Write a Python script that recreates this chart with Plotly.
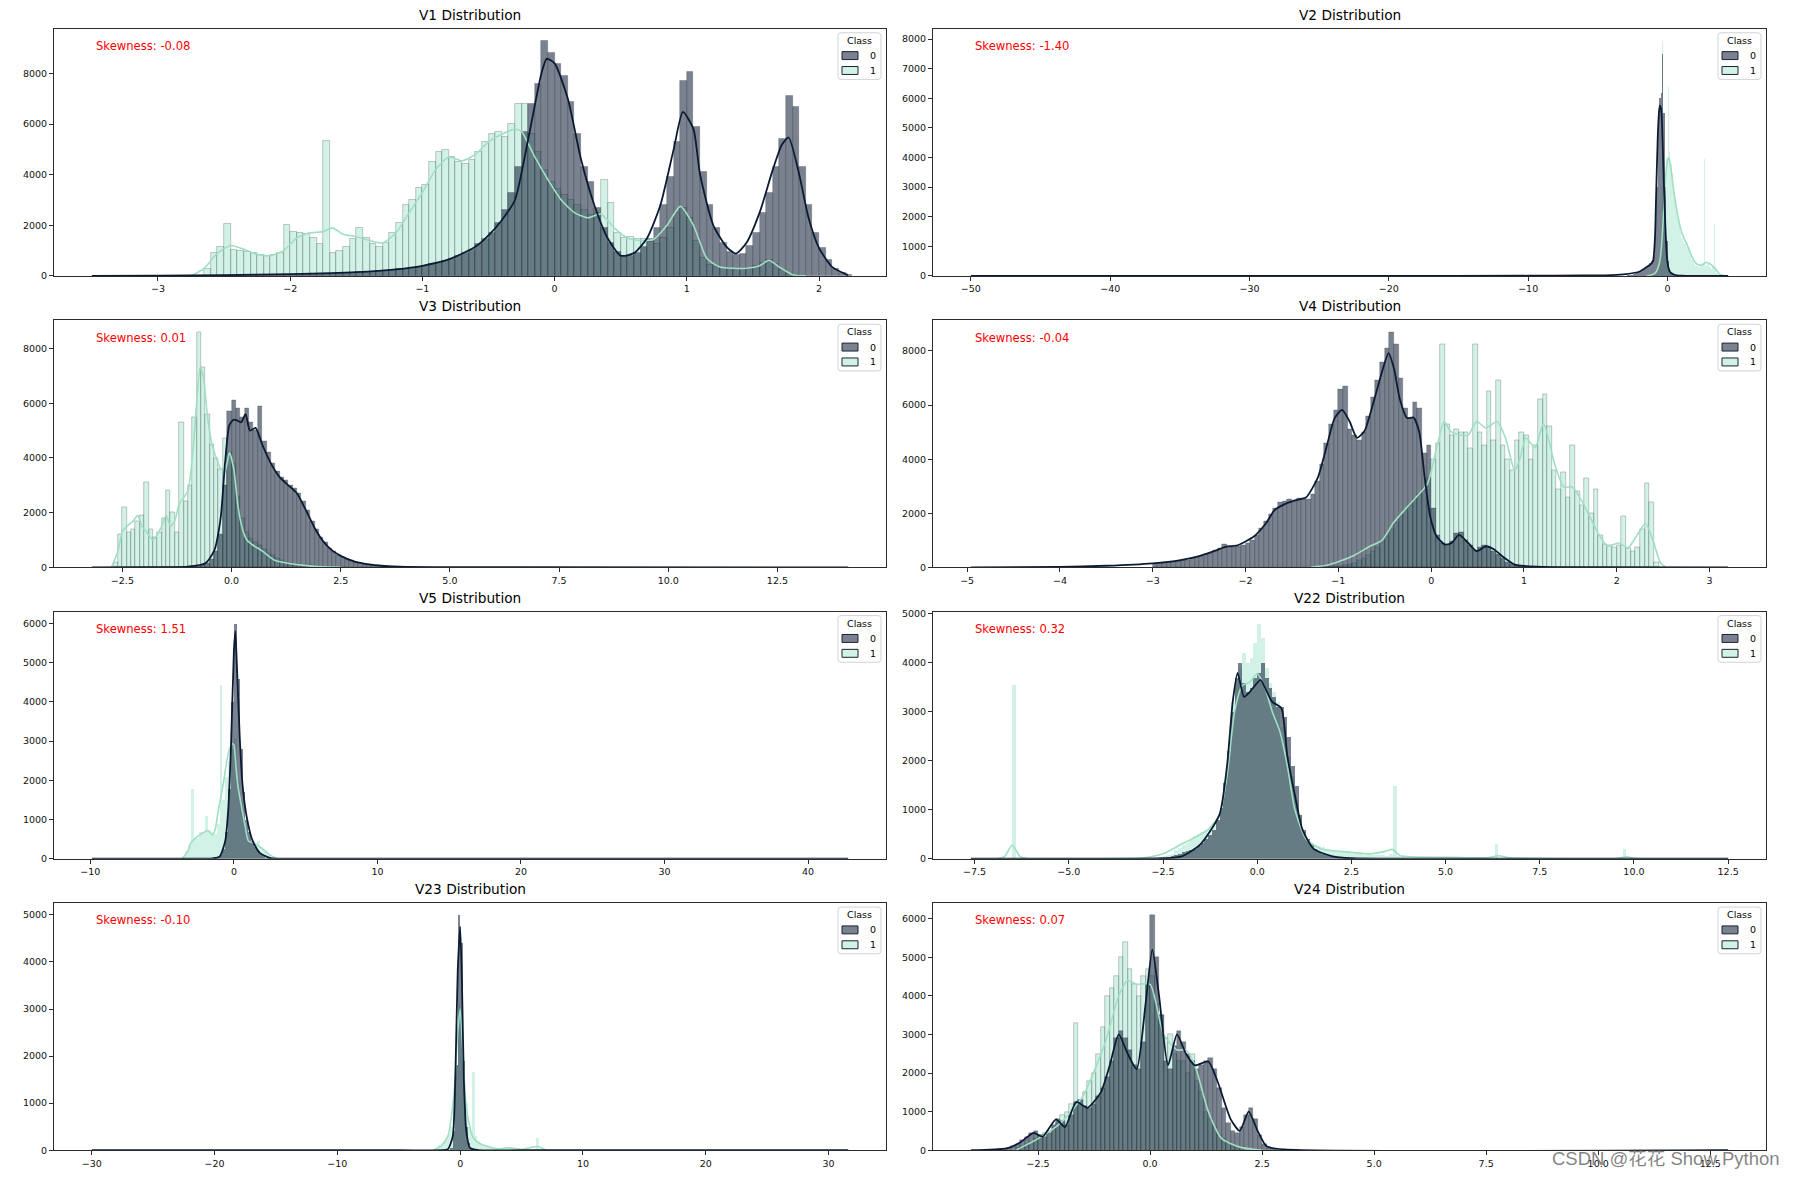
import plotly.graph_objects as go

# ===================== DATA =====================
panel_names = ["V1", "V2", "V3", "V4", "V5", "V22", "V23", "V24"]
skew_values = [-0.08, -1.40, 0.01, -0.04, 1.51, 0.32, -0.10, 0.07]

# ---- V1 ----
v1_bin_width = 0.05
v1_class0_start = -2.70
v1_class0 = [10, 10, 15, 15, 20, 20, 25, 25, 30, 30, 35, 40, 45, 50, 55, 60, 65, 70, 80, 90, 100, 110, 120, 135,
             150, 165, 180, 200, 220, 245, 270, 300, 335, 370,
             410, 460, 520, 590, 680, 780, 900, 1050, 1250, 1480,
             1700, 2100, 2600, 3300, 4300, 5700, 6800, 7600, 9300, 8800,
             8400, 7900, 6900, 5600, 4300, 3700, 2700, 1900, 1300, 950,
             780, 800, 920, 1150, 1450, 1900, 2800, 3900, 5300, 7700,
             8050, 5900, 4100, 2800, 1900, 1300, 950, 820, 880, 1200,
             1700, 2500, 3300, 4300, 5400, 7100, 6700, 4300, 2800, 1700,
             1100, 650, 300, 120, 30]
v1_class1_start = -2.70
v1_class1 = [0, 300, 900, 1150, 2050, 1050, 1000, 950, 900, 820, 800, 850, 900, 2000, 1750, 1700, 1650, 1500, 1250, 5350, 900, 1000, 1150, 1450,
             1900, 1500, 1250, 1150, 1300, 1700, 2100, 2800, 3000, 3500,
             3600, 4500, 4900, 5000, 4700, 4500, 4450, 4600, 4900, 5300,
             5600, 5700, 5500, 6000, 6800, 6800, 5600, 4900, 4200, 3700,
             3450, 3200, 3000, 2800, 2600, 2400, 2500, 3800, 2900, 1700,
             1500, 1550, 1450, 1450, 1350, 1250, 1500, 1900, 2500, 2700,
             2300, 1400, 700, 450, 350, 320, 300, 300, 300, 320,
             380, 500, 620, 480, 250, 100, 40]
v1_kde0_x = [-3.5, -3.0, -2.5, -2.0, -1.5, -1.2, -1.0, -0.8, -0.6, -0.5, -0.4, -0.3, -0.2, -0.1, -0.06, 0.0, 0.1, 0.2, 0.3, 0.4,
             0.5, 0.6, 0.7, 0.8, 0.9, 0.97, 1.05, 1.1, 1.2, 1.3, 1.37, 1.45, 1.55, 1.65, 1.72, 1.77, 1.85, 1.92, 2.0, 2.1, 2.22]
v1_kde0_y = [0, 10, 30, 70, 150, 260, 400, 650, 1150, 1600, 2200, 3000, 5400, 8000, 8580, 8400, 7000, 4600, 2800, 1500,
             800, 900, 1500, 2800, 5000, 6480, 5800, 4000, 2000, 1150, 880, 1300, 2500, 4200, 5200, 5470, 4000, 2300, 1100, 350, 30]
v1_kde1_x = [-2.75, -2.65, -2.55, -2.45, -2.35, -2.25, -2.15, -2.05, -1.95, -1.85, -1.75, -1.68, -1.6, -1.5, -1.4, -1.3, -1.2, -1.1, -1.0, -0.9,
             -0.8, -0.7, -0.6, -0.5, -0.4, -0.3, -0.25, -0.15, -0.05, 0.05, 0.15, 0.25, 0.35, 0.45, 0.55, 0.65, 0.75, 0.85, 0.95, 1.05,
             1.15, 1.25, 1.35, 1.45, 1.55, 1.62, 1.7, 1.8, 1.9]
v1_kde1_y = [0, 300, 900, 1200, 1050, 850, 800, 1000, 1500, 1700, 1750, 1900, 1650, 1550, 1400, 1300, 1700, 2500, 3300, 4200,
             4700, 4550, 4800, 5300, 5600, 5800, 5700, 4700, 3800, 3000, 2500, 2300, 2450, 1900, 1500, 1400, 1450, 2000, 2750, 2000,
             700, 350, 300, 300, 400, 620, 350, 50, 0]

# ---- V2 ----
v2_bin_width = 0.1
v2_class0_start = -3.0
v2_class0 = [20, 25, 30, 40, 50, 60, 70, 90, 110, 130,
             150, 170, 200, 230, 270, 320, 380, 430, 500, 550,
             700, 1500, 3000, 5000, 6000, 6200, 7500, 5500, 3000, 1200,
             500, 250, 120, 60, 40, 25, 15, 10, 5, 5]
v2_class1_start = -1.7
v2_class1 = [10, 20, 30, 40, 50, 60, 80,
             100, 150, 250, 400, 700, 1200, 7950, 2500, 3300, 4000,
             6400, 4200, 3800, 3500, 3000, 2600, 2300, 2000, 1700, 1500,
             1300, 1200, 1100, 1000, 1150, 900, 700, 550, 450, 400,
             350, 350, 300, 350, 450, 400, 3950, 350, 400, 450,
             300, 250, 350, 1750, 300, 100, 30, 10]
v2_kde0_x = [-50, -20, -10, -6, -4, -3, -2, -1.5, -1.2, -1.04, -0.9, -0.83, -0.7, -0.6, -0.54, -0.45, -0.35, -0.25, -0.15, -0.05,
             0.05, 0.2, 0.5, 1.0, 2.0, 4.35]
v2_kde0_y = [0, 0, 5, 15, 30, 60, 150, 300, 400, 500, 1300, 2500, 4700, 5600, 5750, 5600, 4500, 3000, 1600, 700,
             300, 120, 40, 10, 0, 0]
v2_kde1_x = [-1.5, -1.0, -0.8, -0.6, -0.45, -0.3, -0.15, 0.0, 0.1, 0.25, 0.5, 0.75, 1.0, 1.25, 1.5, 1.75, 2.0, 2.25, 2.5, 2.75,
             3.0, 3.25, 3.5, 3.75, 4.0, 4.35]
v2_kde1_y = [0, 60, 150, 400, 900, 2000, 3300, 3900, 4000, 3600, 2700, 2000, 1500, 1200, 950, 650, 450, 370, 380, 450,
             420, 330, 200, 60, 10, 0]

# ---- V3 ----
v3_bin_width = 0.1
v3_class0_start = -1.6
v3_class0 = [5, 5, 10, 10, 15, 20, 25, 35,
             50, 80, 150, 300, 600, 1200, 3000, 5700, 6100, 5800,
             5500, 5800, 5300, 5000, 5900, 4600, 4200, 3800, 3500, 3300,
             3200, 3000, 2900, 2700, 2400, 2100, 1700, 1400, 1100, 900,
             700, 580, 450, 380, 300, 250, 200, 160, 130, 100,
             80, 60, 50]
v3_class1_start = -2.7
v3_class1 = [200, 1200, 2200, 1300, 1400, 1700, 1900, 3100, 1400,
             1100, 1300, 1800, 2800, 2000, 1300, 5300, 2400, 3000, 5500,
             8600, 7300, 5600, 4500, 4000, 3600, 4700, 4200, 3800, 2600,
             1800, 1300, 1050, 900, 800, 650, 500, 450, 350, 250,
             200, 150, 120, 100, 80, 70, 60, 40, 20, 10, 5]
v3_kde0_x = [-3.2, -2.0, -1.0, -0.6, -0.4, -0.25, -0.15, -0.05, 0.05, 0.15, 0.22, 0.32, 0.42, 0.55, 0.7, 0.9, 1.1, 1.3, 1.5, 1.7,
             1.9, 2.1, 2.3, 2.5, 2.8, 3.1, 3.5, 4.0, 5.0, 14.12]
v3_kde0_y = [0, 5, 30, 150, 600, 1800, 3800, 5200, 5400, 5350, 5300, 5600, 5000, 5100, 4500, 3800, 3300, 3000, 2700, 2100,
             1450, 950, 620, 420, 220, 120, 50, 20, 5, 0]
v3_kde1_x = [-2.75, -2.6, -2.5, -2.4, -2.25, -2.15, -2.05, -1.95, -1.8, -1.6, -1.5, -1.4, -1.3, -1.2, -1.0, -0.9, -0.8, -0.72, -0.65, -0.55,
             -0.45, -0.35, -0.25, -0.15, -0.05, 0.05, 0.15, 0.25, 0.35, 0.5, 0.7, 0.9, 1.0, 1.2, 1.5, 2.0, 2.5]
v3_kde1_y = [0, 600, 1300, 1500, 1700, 1900, 1500, 1300, 1000, 1500, 1900, 1500, 1700, 2300, 2800, 4000, 6000, 7300, 7000, 5500,
             4500, 4000, 3600, 3500, 4200, 3600, 2200, 1400, 1000, 800, 600, 350, 250, 180, 100, 30, 0]

# ---- V4 ----
v4_bin_width = 0.05
v4_class0_start = -3.0
v4_class0 = [130, 145, 160, 180, 200, 220, 250, 280, 320, 360,
             410, 470, 540, 620, 700, 860, 760, 760, 780, 820,
             880, 1000, 1200, 1450, 1700, 1950, 2200, 2400, 2450, 2500,
             2450, 2550, 2500, 2500, 2700, 3200, 3800, 4600, 5300, 5800,
             6600, 6700, 5100, 4900, 4700, 5000, 5600, 6300, 6900, 7600,
             8100, 8700, 8250, 7000, 5900, 5500, 6100, 5900, 4200, 4500,
             2200, 1200, 900, 850, 950, 1250, 1300, 1000, 800, 650,
             750, 800, 750, 600, 500, 350, 200, 100, 60, 40,
             30, 20, 10, 5]
v4_class1_start = -1.30
v4_class1 = [5, 10, 15, 20, 30, 35,
             40, 60, 100, 150, 250, 350, 450, 600, 750, 950,
             1150, 1400, 1650, 1900, 2100, 2300, 2500, 2700, 2900, 3300,
             4000, 4600, 8250, 5300, 4900, 5100, 5000, 5000, 4400, 8250,
             5000, 4500, 6500, 4700, 6900, 4500, 4000, 3600, 4700, 5000,
             4900, 4000, 4500, 6200, 6400, 5200, 3600, 2900, 3500, 2600,
             4500, 2800, 2300, 3300, 2000, 2900, 1200, 850, 800, 750,
             800, 1900, 700, 600, 750, 1400, 3100, 2400, 200]
v4_kde0_x = [-4.96, -4.0, -3.5, -3.0, -2.7, -2.5, -2.3, -2.2, -2.1, -1.91, -1.78, -1.69, -1.6, -1.47, -1.35, -1.22, -1.13, -1.04, -0.96, -0.88,
             -0.8, -0.72, -0.63, -0.53, -0.46, -0.4, -0.34, -0.26, -0.19, -0.13, -0.07, -0.01, 0.06, 0.15, 0.22, 0.3, 0.4, 0.49, 0.59, 0.68,
             0.77, 0.9, 1.02, 1.5, 3.2]
v4_kde0_y = [0, 20, 60, 150, 270, 420, 650, 780, 800, 1140, 1630, 2110, 2300, 2480, 2580, 3330, 4420, 5520, 5820, 5400,
             4790, 5030, 6000, 7220, 7920, 7340, 6250, 5520, 5540, 5030, 3330, 1870, 1140, 840, 900, 1200, 900, 600, 780, 660,
             400, 100, 50, 5, 0]
v4_kde1_x = [-1.3, -1.1, -0.85, -0.66, -0.53, -0.41, -0.29, -0.16, -0.04, 0.06, 0.14, 0.21, 0.3, 0.4, 0.49, 0.59, 0.71, 0.8, 0.9, 0.96,
             1.02, 1.12, 1.21, 1.27, 1.33, 1.43, 1.52, 1.62, 1.71, 1.81, 1.9, 2.02, 2.12, 2.21, 2.31, 2.39, 2.47, 2.53]
v4_kde1_y = [0, 100, 410, 780, 1000, 1630, 2110, 2600, 3090, 4420, 5390, 5030, 4900, 4900, 5390, 5150, 5390, 4790, 3570, 4060,
             4790, 4420, 5330, 4670, 3820, 2970, 2970, 2480, 1870, 1200, 780, 900, 720, 1140, 1630, 1000, 170, 0]

# ---- V5 ----
v5_bin_width = 0.2
v5_class0_start = -1.8
v5_class0 = [5, 10, 20, 40, 100, 250, 700, 1800, 4000,
             6000, 4600, 2800, 1700, 1000, 700, 450, 300, 200, 120,
             70, 40, 20, 10, 5]
v5_class1_start = -3.6
v5_class1 = [50, 200, 350, 1800, 500, 550, 700, 650,
             1100, 750, 700, 650, 900, 4450, 1500, 2100, 2500, 2800,
             3100, 2000, 1500, 1100, 800, 500, 450, 400, 450, 300,
             250, 200, 100, 40]
v5_kde0_x = [-9.9, -3.0, -1.5, -1.0, -0.6, -0.4, -0.2, 0.0, 0.1, 0.2, 0.4, 0.6, 0.9, 1.3, 1.8, 2.5, 3.0, 42.8]
v5_kde0_y = [0, 0, 10, 50, 460, 1220, 2900, 5300, 5800, 5000, 3150, 1890, 1050, 460, 150, 20, 0, 0]
v5_kde1_x = [-3.6, -3.2, -3.0, -2.6, -2.2, -1.8, -1.5, -1.3, -1.1, -0.9, -0.7, -0.5, -0.3, -0.1, 0.0, 0.15, 0.3, 0.5, 0.8, 1.0,
             1.5, 2.0, 2.5, 3.0]
v5_kde1_y = [0, 200, 400, 550, 650, 715, 600, 750, 1200, 1600, 2000, 2480, 2800, 2930, 2900, 2300, 1800, 1390, 800, 460,
             380, 250, 100, 0]

# ---- V22 ----
v22_bin_width = 0.1
v22_class0_start = -2.8
v22_class0 = [5, 5, 15, 25, 40, 60, 90, 110, 140, 160,
              190, 210, 270, 330, 400, 500, 600, 800, 1050, 1550,
              2200, 3000, 3700, 4000, 3600, 3400, 3500, 3700, 3800, 4000,
              3700, 3500, 3300, 3100, 3100, 2900, 2500, 1900, 1500, 900,
              600, 400, 300, 200, 150, 100, 90, 70, 60, 40,
              35, 25, 20, 15, 10, 5]
v22_class1_start = -3.0
v22_class1 = [10, 20, 25, 40, 50, 60, 90, 110, 180, 220,
              280, 320, 420, 480, 520, 560, 580, 620, 680, 750,
              1000, 1600, 2100, 3200, 3700, 3900, 4200, 4000, 4100, 4400,
              4800, 4500, 3900, 3600, 3400, 3200, 2700, 2500, 2100, 1700,
              1200, 900, 550, 400, 320, 280, 260, 240, 210, 190,
              160, 150, 150, 140, 130, 110, 100, 100, 90, 90,
              80, 80, 80, 80, 70, 100, 1500, 60, 40, 30]
v22_class1_spike_start = [-6.5, 6.3, 9.7]
v22_class1_spike = [3550, 300, 200]
v22_kde0_x = [-7.6, -4.0, -2.5, -2.0, -1.5, -1.0, -0.8, -0.65, -0.52, -0.35, -0.2, 0.09, 0.2, 0.4, 0.64, 0.8, 1.0, 1.2, 1.5, 2.0,
              2.5, 4.0, 12.5]
v22_kde0_y = [0, 0, 10, 50, 300, 900, 1900, 3200, 3790, 3300, 3400, 3650, 3500, 3200, 3070, 2100, 1300, 600, 200, 50,
              10, 0, 0]
v22_kde1_x = [-7.6, -6.9, -6.7, -6.5, -6.3, -6.1, -5.5, -3.0, -2.5, -2.0, -1.74, -1.3, -1.0, -0.8, -0.6, -0.4, -0.2, 0.0, 0.2, 0.4,
              0.6, 0.8, 1.0, 1.3, 1.7, 2.2, 3.0, 3.4, 3.6, 3.8, 5.0, 6.1, 6.4, 6.7, 8.0, 9.5, 9.8, 10.1, 12.5]
v22_kde1_y = [0, 0, 50, 280, 50, 0, 0, 20, 100, 300, 400, 600, 900, 1700, 3000, 3530, 3600, 3770, 3500, 3000,
              2600, 1900, 1000, 400, 200, 150, 100, 150, 190, 60, 30, 20, 60, 20, 0, 0, 40, 0, 0]

# ---- V23 ----
v23_bin_width = 0.2
v23_class0_start = -1.0
v23_class0 = [10, 50, 400, 1800, 5000,
              4400, 1900, 500, 150, 50, 20, 10, 5]
v23_class1_start = -2.0
v23_class1 = [50, 100, 150, 200, 250, 350, 500, 900, 1800, 3100,
              3000, 1800, 1000, 500, 400, 1650, 300, 200, 150, 100,
              80, 60, 50, 40, 30, 30, 30, 30, 60, 40,
              30, 20, 20, 20, 10, 10, 10, 10, 10, 10,
              20, 250, 20]
v23_kde0_x = [-30, -5, -1.5, -1.0, -0.6, -0.4, -0.2, 0.0, 0.15, 0.3, 0.5, 0.8, 1.5, 5, 31.6]
v23_kde0_y = [0, 0, 0, 20, 300, 1500, 3800, 4750, 3500, 1500, 400, 50, 0, 0, 0]
v23_kde1_x = [-2.2, -1.5, -1.0, -0.5, -0.2, 0.0, 0.2, 0.5, 1.0, 1.5, 2.0, 3.0, 4.0, 5.0, 6.3, 7.0]
v23_kde1_y = [0, 100, 300, 1200, 2500, 3000, 2200, 900, 300, 150, 100, 30, 50, 20, 80, 0]

# ---- V24 ----
v24_bin_width = 0.1
v24_class0_start = -3.6
v24_class0 = [5, 10, 20, 40, 60, 100, 150, 250, 350, 450,
              500, 400, 350, 450, 650, 800, 750, 650, 900, 1250,
              1300, 1150, 1100, 1200, 1400, 1600, 1900, 2300, 2900, 3100,
              2900, 2600, 2200, 2100, 2800, 4300, 6100, 5000, 3500, 2300,
              2100, 2700, 3100, 2800, 2500, 2300, 2100, 2200, 2300, 2400,
              2100, 1600, 1100, 700, 500, 450, 600, 900, 1100, 800,
              400, 150, 60, 30, 10, 5]
v24_class1_start = -3.0
v24_class1 = [50, 100, 150, 200,
              300, 400, 450, 500, 600, 700, 900, 1000, 1200, 3300,
              1300, 1500, 1800, 2000, 2500, 3200, 4000, 4200, 4500, 5000,
              5400, 4700, 4300, 4000, 4500, 4700, 4500, 3800, 3500, 2900,
              3000, 2500, 2300, 2300, 2000, 2500, 1800, 1500, 1000, 800,
              600, 400, 300, 200, 100, 50, 20]
v24_kde0_x = [-4.0, -3.2, -2.9, -2.6, -2.4, -2.1, -1.9, -1.65, -1.4, -1.1, -0.9, -0.7, -0.5, -0.3, -0.1, 0.05, 0.2, 0.4, 0.6, 0.8,
              1.0, 1.3, 1.5, 1.8, 2.0, 2.2, 2.4, 2.6, 3.0, 12.9]
v24_kde0_y = [0, 50, 200, 450, 350, 800, 600, 1250, 1100, 1500, 2200, 3000, 2500, 2100, 3800, 5200, 4000, 2200, 3000, 2500,
              2200, 2300, 1800, 800, 500, 1000, 500, 100, 20, 0]
v24_kde1_x = [-3.0, -2.5, -2.0, -1.5, -1.0, -0.7, -0.5, -0.3, 0.0, 0.3, 0.6, 0.8, 1.0, 1.3, 1.6, 2.0, 2.5]
v24_kde1_y = [0, 300, 700, 1400, 2800, 4000, 4400, 4300, 4300, 3000, 2600, 2600, 2200, 1000, 300, 80, 0]

# axis tick settings (value steps)
x_dticks = [1, 10, 2.5, 1, 10, 2.5, 10, 2.5]
y_dticks = [2000, 1000, 2000, 2000, 1000, 1000, 1000, 1000]
legend_title = "Class"
legend_labels = ["0", "1"]
watermark = "CSDN @花花 Show Python"

# each class: list of (bin start, counts) segments on the panel's common bin grid
panels = [
    (v1_bin_width, [(v1_class0_start, v1_class0)], [(v1_class1_start, v1_class1)], v1_kde0_x, v1_kde0_y, v1_kde1_x, v1_kde1_y),
    (v2_bin_width, [(v2_class0_start, v2_class0)], [(v2_class1_start, v2_class1)], v2_kde0_x, v2_kde0_y, v2_kde1_x, v2_kde1_y),
    (v3_bin_width, [(v3_class0_start, v3_class0)], [(v3_class1_start, v3_class1)], v3_kde0_x, v3_kde0_y, v3_kde1_x, v3_kde1_y),
    (v4_bin_width, [(v4_class0_start, v4_class0)], [(v4_class1_start, v4_class1)], v4_kde0_x, v4_kde0_y, v4_kde1_x, v4_kde1_y),
    (v5_bin_width, [(v5_class0_start, v5_class0)], [(v5_class1_start, v5_class1)], v5_kde0_x, v5_kde0_y, v5_kde1_x, v5_kde1_y),
    (v22_bin_width, [(v22_class0_start, v22_class0)],
     [(v22_class1_start, v22_class1)] + [(s, [v]) for s, v in zip(v22_class1_spike_start, v22_class1_spike)],
     v22_kde0_x, v22_kde0_y, v22_kde1_x, v22_kde1_y),
    (v23_bin_width, [(v23_class0_start, v23_class0)], [(v23_class1_start, v23_class1)], v23_kde0_x, v23_kde0_y, v23_kde1_x, v23_kde1_y),
    (v24_bin_width, [(v24_class0_start, v24_class0)], [(v24_class1_start, v24_class1)], v24_kde0_x, v24_kde0_y, v24_kde1_x, v24_kde1_y),
]

# ===================== STYLE / LAYOUT =====================
W, H = 1796, 1182
FONT = "DejaVu Sans"
col_px = [(54, 886), (933, 1766)]
row_px = [(25, 274), (318.7, 567.7), (612.3, 861.3), (906, 1155)]

C0_FILL = "rgba(12,27,51,0.55)"
C1_FILL = "rgba(168,230,207,0.50)"
C0_LINE = "#0c1b33"
C1_LINE = "#9fdfc2"
EDGE = "rgba(45,55,65,0.45)"
AXIS_COLOR = "#2b2b2b"


def PX(p):
    return p / W


def PY(p):
    return 1 - p / H


def rpath(x0, y0, x1, y1, r):
    return (f"M{PX(x0 + r)},{PY(y0)} L{PX(x1 - r)},{PY(y0)} Q{PX(x1)},{PY(y0)} {PX(x1)},{PY(y0 + r)} "
            f"L{PX(x1)},{PY(y1 - r)} Q{PX(x1)},{PY(y1)} {PX(x1 - r)},{PY(y1)} "
            f"L{PX(x0 + r)},{PY(y1)} Q{PX(x0)},{PY(y1)} {PX(x0)},{PY(y1 - r)} "
            f"L{PX(x0)},{PY(y0 + r)} Q{PX(x0)},{PY(y0)} {PX(x0 + r)},{PY(y0)} Z")


fig = go.Figure()
layout = dict(
    width=W, height=H, margin=dict(l=0, r=0, t=0, b=0),
    paper_bgcolor="white", plot_bgcolor="white",
    barmode="overlay", bargap=0, showlegend=False,
    font=dict(family=FONT, color="black"),
)
shapes = []
annotations = []

for k, (bw, segs0, segs1, k0x, k0y, k1x, k1y) in enumerate(panels):
    r, c = divmod(k, 2)
    L, R = col_px[c]
    T, B = row_px[r]
    n = k + 1
    xa = "x" if n == 1 else f"x{n}"
    ya = "y" if n == 1 else f"y{n}"
    xkey = "xaxis" if n == 1 else f"xaxis{n}"
    ykey = "yaxis" if n == 1 else f"yaxis{n}"

    xmin = min(min(k0x), min(k1x))
    xmax = max(max(k0x), max(k1x))
    pad = 0.05 * (xmax - xmin)
    xr = [xmin - pad, xmax + pad]
    all_counts = [v for _, cs in segs0 + segs1 for v in cs]
    ymax = 1.05 * max(max(all_counts), max(k0y), max(k1y))

    bar_px = bw * (R - L) / (xr[1] - xr[0])
    ew = 0.6 if bar_px >= 4 else 0

    for segs, fill in ((segs1, C1_FILL), (segs0, C0_FILL)):
        xs, ys = [], []
        for start, counts in segs:
            for i, v in enumerate(counts):
                if v > 0:
                    xs.append(start + bw * (i + 0.5))
                    ys.append(v)
        fig.add_trace(go.Bar(x=xs, y=ys, width=bw, xaxis=xa, yaxis=ya,
                             marker=dict(color=fill, line=dict(color=EDGE, width=ew)),
                             hoverinfo="skip", showlegend=False))
    fig.add_trace(go.Scatter(x=k1x, y=k1y, mode="lines", xaxis=xa, yaxis=ya,
                             line=dict(color=C1_LINE, width=1.6, shape="spline", smoothing=0.6),
                             hoverinfo="skip", showlegend=False))
    fig.add_trace(go.Scatter(x=k0x, y=k0y, mode="lines", xaxis=xa, yaxis=ya,
                             line=dict(color=C0_LINE, width=1.8, shape="spline", smoothing=0.6),
                             hoverinfo="skip", showlegend=False))

    xfmt = ".1f" if x_dticks[k] == 2.5 else ""
    layout[xkey] = dict(domain=[PX(L), PX(R)], anchor=ya, range=xr, tick0=0, dtick=x_dticks[k],
                        tickformat=xfmt, showline=True, mirror=True, linecolor=AXIS_COLOR, linewidth=1,
                        ticks="outside", ticklen=4, tickwidth=1, tickcolor=AXIS_COLOR,
                        showgrid=False, zeroline=False, tickfont=dict(family=FONT, size=9.5, color="#111"))
    layout[ykey] = dict(domain=[PY(B), PY(T)], anchor=xa, range=[0, ymax], tick0=0, dtick=y_dticks[k],
                        tickformat="d", showline=True, mirror=True, linecolor=AXIS_COLOR, linewidth=1,
                        ticks="outside", ticklen=4, tickwidth=1, tickcolor=AXIS_COLOR,
                        showgrid=False, zeroline=False, tickfont=dict(family=FONT, size=9.5, color="#111"))

    # title
    annotations.append(dict(text=f"{panel_names[k]} Distribution", x=PX((L + R) / 2), y=PY(T - 14),
                            xref="paper", yref="paper", xanchor="center", yanchor="middle", showarrow=False,
                            font=dict(family=FONT, size=13.7, color="black")))
    # skewness
    annotations.append(dict(text=f"Skewness: {skew_values[k]:.2f}", x=PX(L + 40), y=PY(T + 17.5),
                            xref="paper", yref="paper", xanchor="left", yanchor="middle", showarrow=False,
                            font=dict(family=FONT, size=11.6, color="red")))
    # legend
    bx0, bx1, by0, by1 = R - 48, R - 5, T + 4, T + 51
    shapes.append(dict(type="path", path=rpath(bx0, by0, bx1, by1, 3), xref="paper", yref="paper",
                       line=dict(color="#d3d3d3", width=1), fillcolor="rgba(255,255,255,0.8)", layer="above"))
    annotations.append(dict(text=legend_title, x=PX((bx0 + bx1) / 2), y=PY(T + 11.5), xref="paper", yref="paper",
                            xanchor="center", yanchor="middle", showarrow=False,
                            font=dict(family=FONT, size=9.5, color="black")))
    for j, (lab, fill) in enumerate(zip(legend_labels, [C0_FILL, C1_FILL])):
        py0 = T + 23 + 15 * j
        shapes.append(dict(type="rect", x0=PX(R - 44), x1=PX(R - 28), y0=PY(py0), y1=PY(py0 + 8),
                           xref="paper", yref="paper", fillcolor=fill,
                           line=dict(color="#1c2430", width=1), layer="above"))
        annotations.append(dict(text=lab, x=PX(R - 13), y=PY(py0 + 4), xref="paper", yref="paper",
                                xanchor="center", yanchor="middle", showarrow=False,
                                font=dict(family=FONT, size=9.5, color="black")))

annotations.append(dict(text=watermark, x=PX(1666), y=PY(1163), xref="paper", yref="paper",
                        xanchor="center", yanchor="middle", showarrow=False,
                        font=dict(family="Liberation Sans, Noto Sans CJK SC", size=18.5,
                                  color="rgba(110,110,110,0.85)")))

layout["shapes"] = shapes
layout["annotations"] = annotations
fig.update_layout(**layout)
fig.write_html("out.html", config={"displayModeBar": False},
               post_script="document.body.style.margin='0';document.body.style.overflow='hidden';")
